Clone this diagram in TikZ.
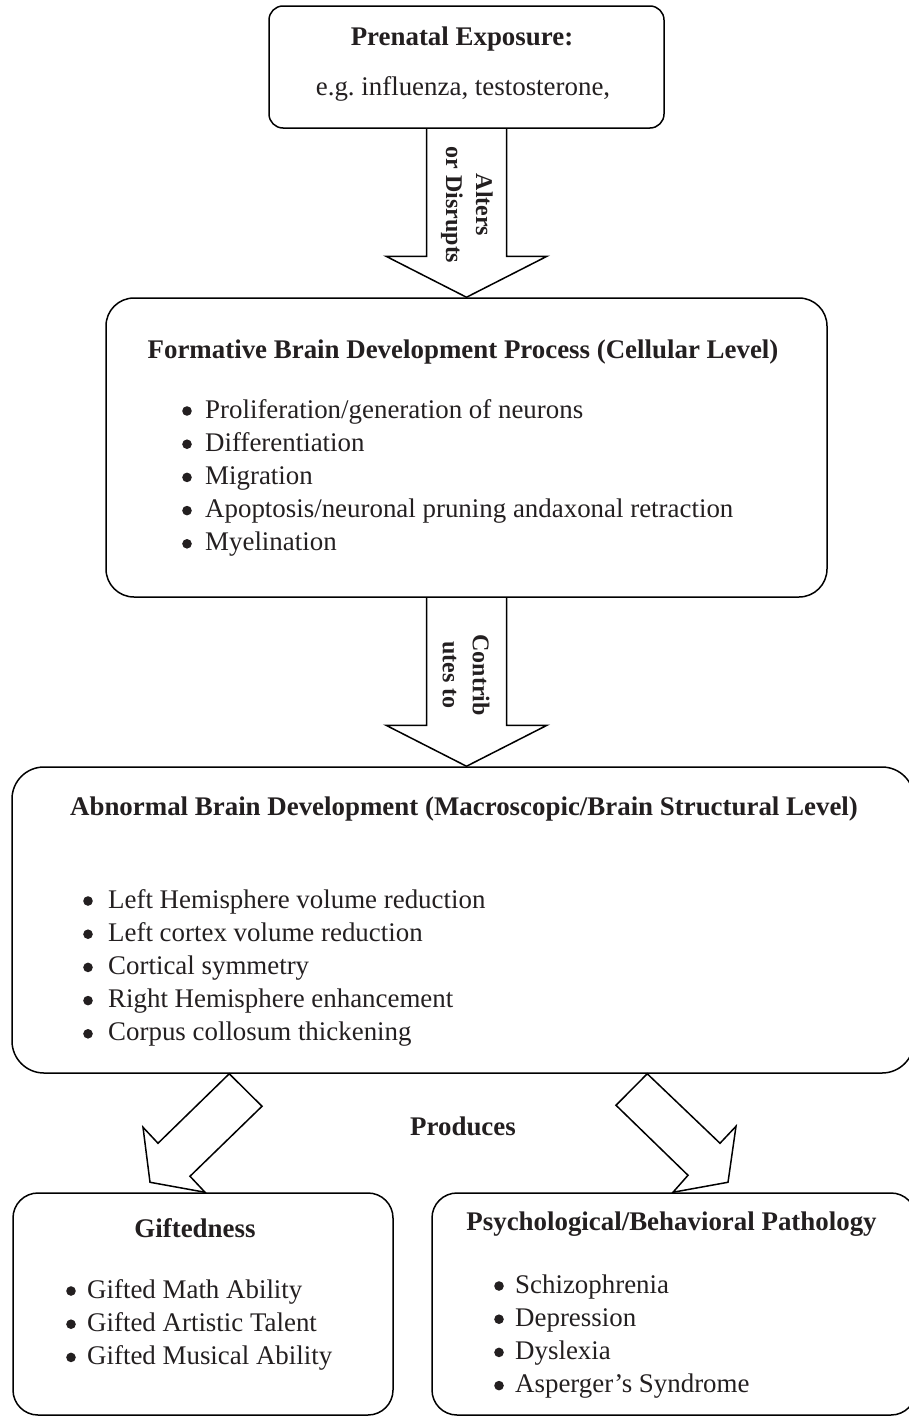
\documentclass[tikz,border=0pt]{standalone}
\usepackage{fontspec}
\setmainfont{Liberation Serif}
\usetikzlibrary{calc}
\definecolor{ink}{HTML}{231F20}
\tikzset{
  box/.style={draw=black, line width=1.5pt, rounded corners=#1, inner sep=0},
  box/.default=25,
  heading/.style={anchor=base, inner sep=0, text=ink, font=\fontsize{26.9}{33}\selectfont\bfseries},
  plain/.style={anchor=base, inner sep=0, text=ink, font=\fontsize{26.9}{33}\selectfont},
  item/.style={anchor=base west, inner sep=0, text=ink, font=\fontsize{26.9}{33}\selectfont},
  dot/.style={circle, fill=ink, inner sep=0, minimum size=9.6},
  fatarrow/.style={draw=black, line width=1.5pt, line join=miter},
  arrowtext/.style={rotate=-90, align=center, inner sep=0, text=ink, font=\fontsize{24}{30}\selectfont\bfseries},
}
\begin{document}
\begin{tikzpicture}[x=1pt,y=-1pt]
\useasboundingbox (0,0) rectangle (909,1416);
\pgfmathsetmacro\rowgap{33.2};
% boxes
\node[box=14, minimum width=395, minimum height=122] (expo) at (466.5,67) {};
\node[box=28, minimum width=721, minimum height=299] (cell) at (466.5,447.5) {};
\node[box=32, minimum width=902, minimum height=306] (macro) at (463,920) {};
\node[box=25, minimum width=380, minimum height=222] (gift) at (203,1304) {};
\node[box=25, minimum width=484, minimum height=222] (patho) at (674,1304) {};
% headings and texts
\node[heading] (expo-title) at (462,45) {Prenatal Exposure:};
\node[plain] (expo-text) at (463,95) {e.g.\ influenza, testosterone,};
\node[heading] (cell-title) at (463,358) {Formative Brain Development Process (Cellular Level)};
\foreach \txt [count=\i from 0] in {{Proliferation/generation of neurons}, Differentiation, Migration, {Apoptosis/neuronal pruning andaxonal retraction}, Myelination} {
  \node[dot] (cell-dot-\i) at (187,418+\rowgap*\i-7) {};
  \node[item] (cell-\i) at (205,418+\rowgap*\i) {\txt};
}
\node[heading] (macro-title) at (464,815) {Abnormal Brain Development (Macroscopic/Brain Structural Level)};
\foreach \txt [count=\i from 0] in {Left Hemisphere volume reduction, Left cortex volume reduction, Cortical symmetry, Right Hemisphere enhancement, Corpus collosum thickening} {
  \node[dot] (macro-dot-\i) at (88,908+\rowgap*\i-7) {};
  \node[item] (macro-\i) at (108,908+\rowgap*\i) {\txt};
}
\node[heading] (produces) at (463,1135) {Produces};
\node[heading] (gift-title) at (195,1237) {Giftedness};
\foreach \txt [count=\i from 0] in {Gifted Math Ability, Gifted Artistic Talent, Gifted Musical Ability} {
  \node[dot] (gift-dot-\i) at (71,1298+\rowgap*\i-7) {};
  \node[item] (gift-\i) at (87,1298+\rowgap*\i) {\txt};
}
\node[heading] (patho-title) at (671.5,1230) {Psychological/Behavioral Pathology};
\foreach \txt [count=\i from 0] in {Schizophrenia, Depression, Dyslexia, Asperger’s Syndrome} {
  \node[dot] (patho-dot-\i) at (499,1293+\rowgap*\i-7) {};
  \node[item] (patho-\i) at (515,1293+\rowgap*\i) {\txt};
}
% block arrows
\coordinate (tip1) at (expo.south |- cell.north);
\coordinate (tip2) at (cell.south |- macro.north);
\draw[fatarrow] ($(expo.south)+(-40,0)$) -- ($(tip1)+(-40,-41)$) -- ($(tip1)+(-80.5,-41)$) -- (tip1) -- ($(tip1)+(80.5,-41)$) -- ($(tip1)+(40,-41)$) -- ($(expo.south)+(40,0)$);
\draw[fatarrow] ($(cell.south)+(-40,0)$) -- ($(tip2)+(-40,-41)$) -- ($(tip2)+(-80.5,-41)$) -- (tip2) -- ($(tip2)+(80.5,-41)$) -- ($(tip2)+(40,-41)$) -- ($(cell.south)+(40,0)$);
\node[arrowtext] (alters) at (467,205) {Alters\\or Disrupts};
\node[arrowtext] (contrib) at (466,675) {Contrib\\utes to};
\draw[fatarrow] ($(macro.south west)+(218,0)$) -- ($(gift.north)+(59,-86)$) -- ($(gift.north)+(-13,-16)$) -- ($(gift.north)+(2,0)$) -- ($(gift.north)+(-53,-10)$) -- ($(gift.north)+(-60,-65)$) -- ($(gift.north)+(-45,-49)$) -- cycle;
\draw[fatarrow] ($(macro.south west)+(636,0)$) -- ($(patho.north)+(-58,-87)$) -- ($(patho.north)+(14,-17)$) -- ($(patho.north)+(-1,0)$) -- ($(patho.north)+(54,-10)$) -- ($(patho.north)+(62,-66)$) -- ($(patho.north)+(46,-49)$) -- cycle;
\end{tikzpicture}
\end{document}
